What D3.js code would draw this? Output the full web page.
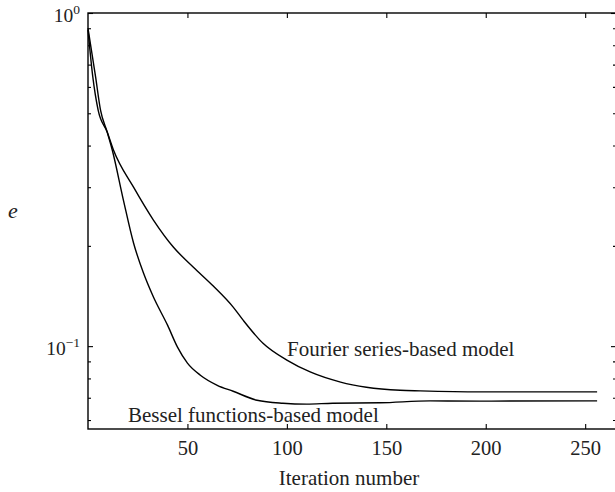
<!DOCTYPE html>
<html>
<head>
<meta charset="utf-8">
<script src="https://cdn.jsdelivr.net/npm/d3@7"></script>
<style>
  body { margin: 0; background: #fff; }
  text { font-family: "Liberation Serif", "Times New Roman", serif; fill: #222; }
</style>
</head>
<body>
<svg id="chart" width="615" height="492"></svg>
<script>
// Relative error e versus iteration number for the two models
const fourierIter = [0, 2.4, 5.1, 9.6, 12.8, 22.9, 32.9, 43, 53, 63, 73, 78, 88, 100, 112, 127, 140, 157, 167, 197, 256];
const fourierE    = [0.89, 0.644, 0.511, 0.440, 0.388, 0.300, 0.239, 0.198, 0.1726, 0.1515, 0.131, 0.1197, 0.102, 0.0908, 0.0835, 0.078, 0.0753, 0.0737, 0.0734, 0.0729, 0.0729];

const besselIter = [0, 3.8, 6.3, 9.6, 12.2, 17.8, 22.9, 27.9, 32.9, 40, 45, 50, 56.5, 65, 73, 85, 98, 110, 123, 147, 172, 197, 256];
const besselE    = [0.90, 0.644, 0.511, 0.440, 0.388, 0.2745, 0.204, 0.1657, 0.1404, 0.1156, 0.0993, 0.0889, 0.0818, 0.0763, 0.0732, 0.0688, 0.0674, 0.0670, 0.0674, 0.0676, 0.0685, 0.0684, 0.0685];

const xTicks = [50, 100, 150, 200, 250];
const yMajor = [1, 0.1];
const yMajorExp = ["0", "\u22121"];
const yMinor = [0.06, 0.07, 0.08, 0.09, 0.2, 0.3, 0.4, 0.5, 0.6, 0.7, 0.8, 0.9];

const xDomain = [0, 265.5];
const yDomain = [0.0564, 1];

const svg = d3.select("#chart");
const L = 88, R = 616, T = 13, B = 429;

const x = d3.scaleLinear().domain(xDomain).range([L, R]);
const y = d3.scaleLog().domain(yDomain).range([B, T]);

// frame
svg.append("rect")
  .attr("x", L).attr("y", T).attr("width", R - L).attr("height", B - T)
  .attr("fill", "none").attr("stroke", "#000").attr("stroke-width", 1.4);

// tick marks, all pointing inward
function ticks(axisGen, tx, ty) {
  const g = svg.append("g").attr("transform", `translate(${tx},${ty})`).call(axisGen);
  g.select(".domain").remove();
  g.selectAll("line").attr("stroke", "#000").attr("stroke-width", 1.1);
  return g;
}

const bottom = ticks(d3.axisBottom(x).tickValues(xTicks).tickSizeInner(-5).tickSizeOuter(0).tickPadding(11), 0, B);
bottom.selectAll("text").attr("font-size", 20.5).attr("fill", "#222")
  .style("font-family", '"Liberation Serif", serif');
ticks(d3.axisTop(x).tickValues(xTicks).tickSizeInner(-5).tickSizeOuter(0).tickFormat(""), 0, T);

ticks(d3.axisLeft(y).tickValues(yMajor).tickSizeInner(-5).tickSizeOuter(0).tickFormat(""), L, 0);
ticks(d3.axisLeft(y).tickValues(yMinor).tickSizeInner(-3).tickSizeOuter(0).tickFormat(""), L, 0);
ticks(d3.axisRight(y).tickValues(yMajor).tickSizeInner(-5).tickSizeOuter(0).tickFormat(""), R, 0);
ticks(d3.axisRight(y).tickValues(yMinor).tickSizeInner(-3).tickSizeOuter(0).tickFormat(""), R, 0);

// y tick labels as powers of ten
yMajor.forEach((v, i) => {
  const t = svg.append("text")
    .attr("x", 80).attr("y", y(v) + 8.5)
    .attr("text-anchor", "end").attr("font-size", 19.5);
  t.append("tspan").text("10");
  t.append("tspan").attr("dy", -8).attr("font-size", 13.5).text(yMajorExp[i]);
});

// curves
const line = (xs, ys) => d3.line()
  .x((d, i) => x(xs[i]))
  .y(d => y(d))
  .curve(d3.curveMonotoneX)(ys);

svg.append("path").attr("d", line(fourierIter, fourierE))
  .attr("fill", "none").attr("stroke", "#000").attr("stroke-width", 1.4);
svg.append("path").attr("d", line(besselIter, besselE))
  .attr("fill", "none").attr("stroke", "#000").attr("stroke-width", 1.4);

// annotations
svg.append("text").attr("x", 287).attr("y", 356).attr("font-size", 21)
  .text("Fourier series-based model");
svg.append("text").attr("x", 128).attr("y", 421.5).attr("font-size", 21)
  .text("Bessel functions-based model");

// axis titles
svg.append("text").attr("x", 349).attr("y", 485).attr("text-anchor", "middle")
  .attr("font-size", 21).text("Iteration number");
svg.append("text").attr("x", 13).attr("y", 218).attr("text-anchor", "middle")
  .attr("font-size", 22).attr("font-style", "italic").text("e");
</script>
</body>
</html>
